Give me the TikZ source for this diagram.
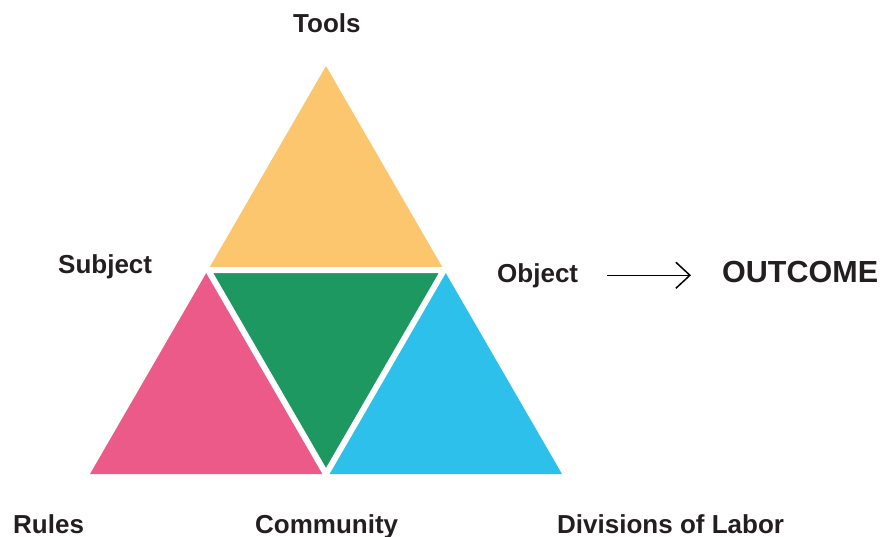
\documentclass[tikz,border=0pt]{standalone}
\usepackage{fontspec}
\setmainfont{Liberation Sans}
\usetikzlibrary{arrows.meta}

\definecolor{toolsfill}{RGB}{251,198,110}
\definecolor{communityfill}{RGB}{28,152,96}
\definecolor{rulesfill}{RGB}{236,90,138}
\definecolor{laborfill}{RGB}{45,192,235}
\definecolor{labeltext}{RGB}{35,31,32}

\begin{document}
\begin{tikzpicture}[x=1pt,y=-1pt]
\tikzstyle{every node}=[inner sep=0pt, anchor=base west, text=labeltext]
\tikzstyle{label}=[font=\bfseries\fontsize{26}{30}\selectfont]
\tikzstyle{result}=[font=\bfseries\fontsize{30.5}{36}\selectfont]
\tikzstyle{gap}=[draw=white, line width=6pt]
\useasboundingbox (0,0) rectangle (882,537);
% corners of the big triangle and the midpoints of its sides
\coordinate (apex) at (326,66);
\coordinate (bl) at (90,474);
\coordinate (br) at (562,474);
\coordinate (ml) at (208,270);
\coordinate (mr) at (444,270);
\coordinate (mb) at (326,474);
\fill[toolsfill] (apex) -- (ml) -- (mr) -- cycle;
\fill[rulesfill] (ml) -- (bl) -- (mb) -- cycle;
\fill[laborfill] (mr) -- (mb) -- (br) -- cycle;
\fill[communityfill] (ml) -- (mr) -- (mb) -- cycle;
\draw[gap] (ml) -- (mr) -- (mb) -- cycle;
% labels
\draw (293,33) node (tools) [label] {Tools};
\draw (58,273) node (subject) [label] {Subject};
\draw (497,282) node (object) [label] {Object};
\draw (722,282) node (outcome) [result] {OUTCOME};
\draw (13,533) node (rules) [label] {Rules};
\draw (255,533) node (community) [label] {Community};
\draw (557,533) node (labor) [label] {Divisions of Labor};
\draw[line width=1.5pt, -{Straight Barb[length=14pt,width=26pt]},
  shorten <=29pt, shorten >=31pt] (object.east) -- (object.east -| outcome.west);
\end{tikzpicture}
\end{document}
